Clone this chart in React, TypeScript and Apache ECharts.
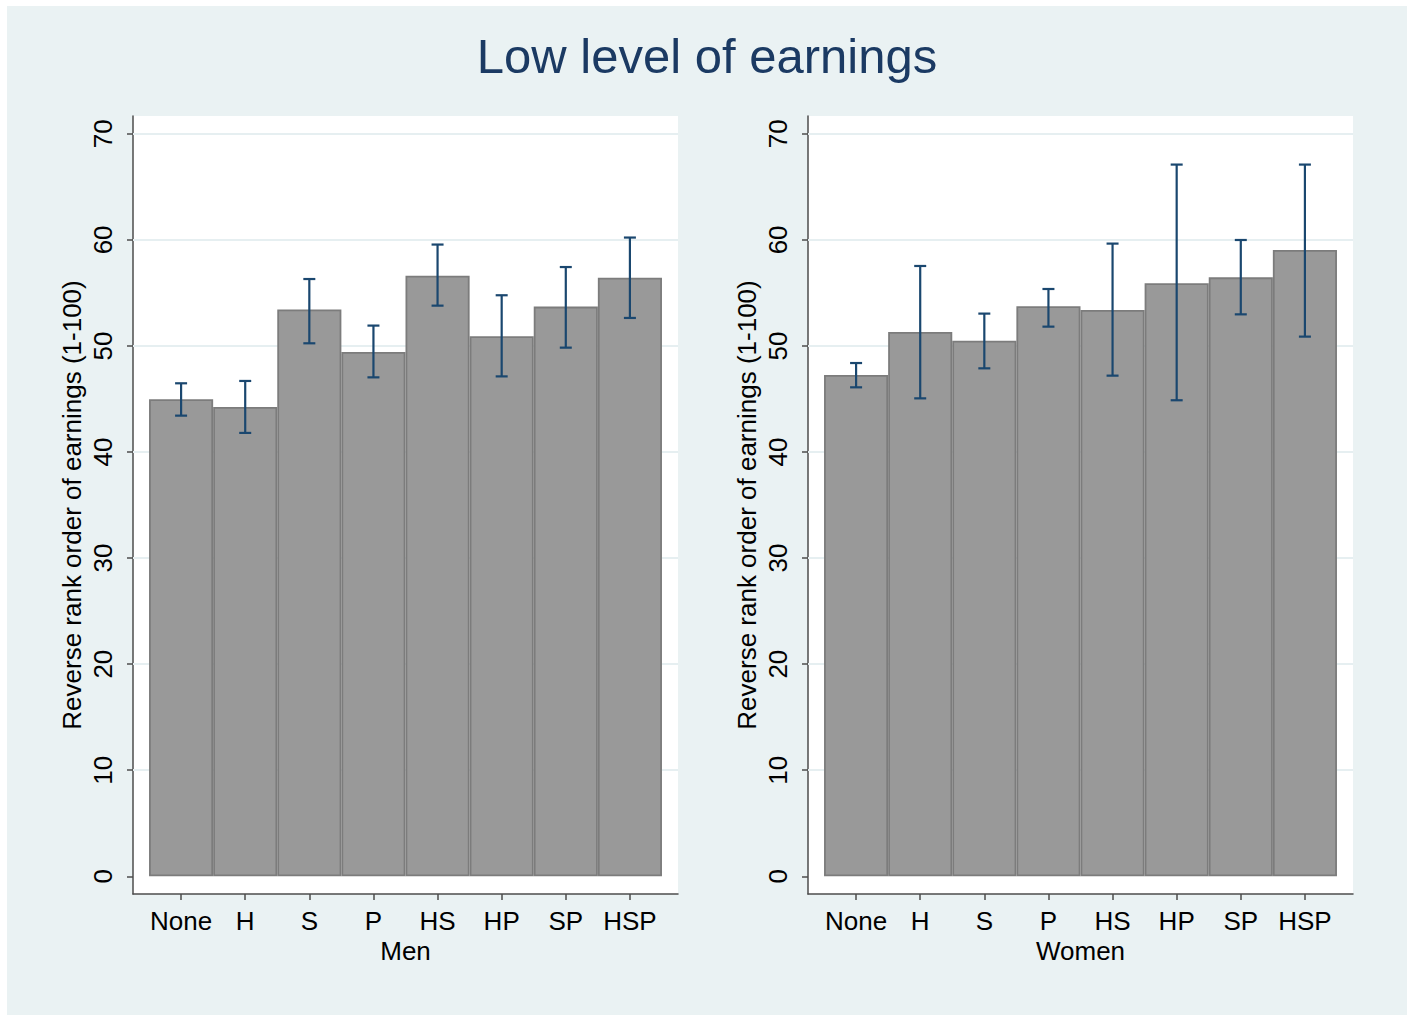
import React, { useEffect, useRef } from "react";
import * as echarts from "echarts";

const chartTitle = "Low level of earnings";
const yTitle = "Reverse rank order of earnings (1-100)";
const panelTitles = ["Men", "Women"];
const categories = ["None", "H", "S", "P", "HS", "HP", "SP", "HSP"];
const yTicks = [0, 10, 20, 30, 40, 50, 60, 70];

const menMeans = [44.97, 44.25, 53.43, 49.43, 56.63, 50.91, 53.71, 56.44];
const menLow = [43.43, 41.8, 50.25, 47.04, 53.8, 47.13, 49.84, 52.64];
const menHigh = [46.48, 46.7, 56.31, 51.92, 59.56, 54.78, 57.44, 60.22];

const womenMeans = [47.26, 51.32, 50.5, 53.74, 53.39, 55.91, 56.47, 59.05];
const womenLow = [46.1, 45.06, 47.89, 51.82, 47.2, 44.88, 52.98, 50.88];
const womenHigh = [48.39, 57.54, 53.05, 55.37, 59.65, 67.1, 59.99, 67.1];

const FONT = "Liberation Sans, Arial, sans-serif";
const NAVY = "#1a476f";
const AXIS = "#4d4d4d";
const GRIDLINE = "#e6eff1";

export default function App() {
  const ref = useRef<HTMLDivElement>(null);

  useEffect(() => {
    if (!ref.current) return;
    const chart = echarts.init(ref.current, undefined, { renderer: "svg" });

    const panels = [
      { means: menMeans, low: menLow, high: menHigh, left: 126 },
      { means: womenMeans, low: womenLow, high: womenHigh, left: 801 },
    ];

    const grid = panels.map((p) => ({
      left: p.left,
      top: 110,
      width: 545,
      height: 778,
      show: true,
      backgroundColor: "#ffffff",
      borderWidth: 0,
      containLabel: false,
    }));

    const xAxis = panels.map((p, i) => ({
      type: "value",
      gridIndex: i,
      min: -0.75,
      max: 7.75,
      splitLine: { show: false },
      axisLine: { show: true, onZero: false, lineStyle: { color: AXIS, width: 1.5 } },
      axisTick: {
        show: true,
        customValues: categories.map((_, k) => k),
        length: 6,
        lineStyle: { color: AXIS, width: 1.5 },
      },
      axisLabel: {
        show: true,
        customValues: categories.map((_, k) => k),
        formatter: (v: number) => categories[Math.round(v)] ?? "",
        fontSize: 26,
        lineHeight: 20,
        fontFamily: FONT,
        color: "#000",
        margin: 17,
      },
      name: panelTitles[i],
      nameLocation: "middle",
      nameGap: 47,
      nameMoveOverlap: false,
      nameTextStyle: { fontSize: 26, lineHeight: 20, fontFamily: FONT, color: "#000" },
    }));

    const yAxis = panels.map((p, i) => ({
      type: "value",
      gridIndex: i,
      min: -1.67,
      max: 71.68,
      splitLine: { show: false },
      axisLine: { show: true, onZero: false, lineStyle: { color: AXIS, width: 1.5 } },
      axisTick: {
        show: true,
        customValues: yTicks,
        length: 6,
        lineStyle: { color: AXIS, width: 1.5 },
      },
      axisLabel: {
        show: true,
        customValues: yTicks,
        rotate: 90,
        fontSize: 26,
        fontFamily: FONT,
        color: "#000",
        margin: 17,
      },
      name: yTitle,
      nameLocation: "middle",
      nameRotate: 90,
      nameGap: 48,
      nameMoveOverlap: false,
      nameTextStyle: { fontSize: 26, fontFamily: FONT, color: "#000" },
    }));

    const series: any[] = [];
    panels.forEach((p, i) => {
      series.push({
        type: "line",
        xAxisIndex: i,
        yAxisIndex: i,
        data: [],
        z: 1,
        silent: true,
        markLine: {
          z: 1,
          silent: true,
          symbol: "none",
          label: { show: false },
          lineStyle: { color: GRIDLINE, width: 2, type: "solid" },
          data: yTicks.filter((v) => v > 0).map((v) => ({ yAxis: v })),
        },
      });
      series.push({
        type: "bar",
        xAxisIndex: i,
        yAxisIndex: i,
        barWidth: "100%",
        z: 2,
        itemStyle: { color: "#999999", borderColor: "#7c7c7c", borderWidth: 1.8 },
        data: p.means.map((m, k) => [k, m]),
      });
      series.push({
        type: "custom",
        xAxisIndex: i,
        yAxisIndex: i,
        z: 3,
        encode: { x: 0, y: [1, 2] },
        data: p.low.map((lo, k) => [k, lo, p.high[k]]),
        renderItem: (params: any, api: any) => {
          const x = api.value(0);
          const pLo = api.coord([x, api.value(1)]);
          const pHi = api.coord([x, api.value(2)]);
          const hw = 6;
          const style = { stroke: NAVY, lineWidth: 2.2, fill: "none" };
          return {
            type: "group",
            children: [
              { type: "line", shape: { x1: pHi[0], y1: pHi[1], x2: pLo[0], y2: pLo[1] }, style },
              { type: "line", shape: { x1: pHi[0] - hw, y1: pHi[1], x2: pHi[0] + hw, y2: pHi[1] }, style },
              { type: "line", shape: { x1: pLo[0] - hw, y1: pLo[1], x2: pLo[0] + hw, y2: pLo[1] }, style },
            ],
          };
        },
      });
    });

    chart.setOption({
      animation: false,
      backgroundColor: "#eaf2f3",
      title: {
        text: chartTitle,
        left: "center",
        top: 20,
        textStyle: { fontSize: 49, fontFamily: FONT, fontWeight: "normal", color: "#1b3a63" },
      },
      grid,
      xAxis,
      yAxis,
      series,
    });

    return () => chart.dispose();
  }, []);

  return (
    <div style={{ position: "fixed", left: 0, top: 0, width: 1407, height: 1015, background: "#ffffff" }}>
      <div ref={ref} style={{ position: "absolute", left: 7, top: 6, width: 1400, height: 1009 }} />
    </div>
  );
}
